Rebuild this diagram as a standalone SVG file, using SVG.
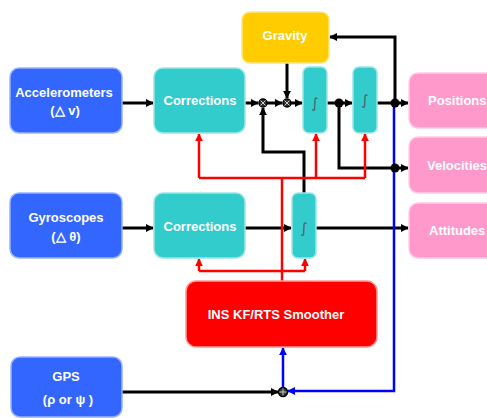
<svg xmlns="http://www.w3.org/2000/svg" width="487" height="418" viewBox="0 0 487 418">
<style>
text{font-family:"Liberation Sans",Arial,sans-serif;font-weight:bold;font-size:13px;fill:#fff;text-anchor:middle;dominant-baseline:central}
.blue{fill:#3366ff;stroke:#99b3ff;stroke-width:1.5}
.teal{fill:#33cccc;stroke:#99e6e6;stroke-width:1.5}
.yel{fill:#ffcc00;stroke:#ffe680;stroke-width:1.5}
.pink{fill:#ff99cc;stroke:#ffcce6;stroke-width:1.5}
.red{fill:#ff0000;stroke:#ff9999;stroke-width:1.5}
.integ{font-family:"DejaVu Sans",sans-serif;font-weight:normal;font-size:14px;fill:#556}
.bk{fill:none;stroke:#000;stroke-width:3}
.rd{fill:none;stroke:#ff0000;stroke-width:2.5}
.bl{fill:none;stroke:#0000ff;stroke-width:2.5}
</style>
<defs>
<marker id="ak" viewBox="0 0 10 10" refX="9" refY="5" markerWidth="8" markerHeight="8" markerUnits="userSpaceOnUse" orient="auto"><path d="M0,0 L10,5 L0,10 z" fill="#000"/></marker>
<marker id="ar" viewBox="0 0 10 10" refX="9" refY="5" markerWidth="8" markerHeight="8" markerUnits="userSpaceOnUse" orient="auto"><path d="M0,0 L10,5 L0,10 z" fill="#ff0000"/></marker>
<marker id="ab" viewBox="0 0 10 10" refX="9" refY="5" markerWidth="8" markerHeight="8" markerUnits="userSpaceOnUse" orient="auto"><path d="M0,0 L10,5 L0,10 z" fill="#0000ff"/></marker>
</defs>
<rect width="487" height="418" fill="#fff"/>

<g id="connectors">
<path class="bk" d="M122,103 H153" marker-end="url(#ak)"/>
<path class="bk" d="M245,103 H258" marker-end="url(#ak)"/>
<path class="bk" d="M267,103 H282" marker-end="url(#ak)"/>
<path class="bk" d="M291,103 H302" marker-end="url(#ak)"/>
<path class="bk" d="M327,103 H352" marker-end="url(#ak)"/>
<path class="bk" d="M377,103 H408" marker-end="url(#ak)"/>
<path class="bk" d="M287,63 V98" marker-end="url(#ak)"/>
<path class="bk" d="M395,103 V37 H330" marker-end="url(#ak)"/>
<path class="bk" d="M339,103 V168 H408" marker-end="url(#ak)"/>
<path class="bk" d="M304,193 V152 H263 V108" marker-end="url(#ak)"/>
<path class="bk" d="M122,228 H153" marker-end="url(#ak)"/>
<path class="bk" d="M245,228 H291" marker-end="url(#ak)"/>
<path class="bk" d="M316,228 H408" marker-end="url(#ak)"/>
<path class="bk" d="M122,392 H278" marker-end="url(#ak)"/>
<path class="rd" d="M282,281 V178"/>
<path class="rd" d="M199,178 H365"/>
<path class="rd" d="M199,178 V134" marker-end="url(#ar)"/>
<path class="rd" d="M316,178 V134" marker-end="url(#ar)"/>
<path class="rd" d="M365,178 V134" marker-end="url(#ar)"/>
<path class="rd" d="M199,271 H305"/>
<path class="rd" d="M199,271 V259" marker-end="url(#ar)"/>
<path class="rd" d="M305,271 V259" marker-end="url(#ar)"/>
<path class="bl" d="M394,103 V391 H288" marker-end="url(#ab)"/>
<path class="bl" d="M283,387 V348" marker-end="url(#ab)"/>
<g fill="#000">
<circle cx="339" cy="103" r="4.5"/>
<circle cx="395" cy="103" r="4.5"/>
<circle cx="395" cy="168" r="4.5"/>
</g>
<g stroke="#000" stroke-width="1.5" fill="#333">
<circle cx="263" cy="103" r="4"/>
<circle cx="287" cy="103" r="4"/>
<circle cx="283" cy="392" r="4.5"/>
</g>
<g stroke="#ccc" stroke-width="1">
<path d="M260.5,100.5 L265.5,105.5 M265.5,100.5 L260.5,105.5"/>
<path d="M284.5,100.5 L289.5,105.5 M289.5,100.5 L284.5,105.5"/>
<path d="M283,388.5 V395.5 M279.5,392 H286.5"/>
</g>
</g>

<g id="accelerometers"><rect class="blue" x="10" y="68" width="112" height="65" rx="9"/><text x="64" y="92">Accelerometers</text><text x="65" y="110">(△ v)</text></g>
<g id="corrections1"><rect class="teal" x="154" y="68" width="91" height="65" rx="9"/><text x="200" y="100">Corrections</text></g>
<g id="gravity"><rect class="yel" x="242" y="12" width="87" height="51" rx="8"/><text x="285" y="35">Gravity</text></g>
<g id="integrator1"><rect class="teal" x="303" y="67" width="24" height="66" rx="6"/><text class="integ" x="315" y="103">∫</text></g>
<g id="integrator2"><rect class="teal" x="353" y="67" width="24" height="66" rx="6"/><text class="integ" x="365" y="100">∫</text></g>
<g id="positions"><rect class="pink" x="409" y="73" width="90" height="55" rx="9"/><text x="428" y="100" style="text-anchor:start">Positions</text></g>
<g id="velocities"><rect class="pink" x="409" y="137" width="90" height="56" rx="9"/><text x="427" y="165" style="text-anchor:start">Velocities</text></g>
<g id="attitudes"><rect class="pink" x="409" y="203" width="90" height="55" rx="9"/><text x="429" y="230" style="text-anchor:start">Attitudes</text></g>
<g id="gyroscopes"><rect class="blue" x="10" y="193" width="112" height="65" rx="9"/><text x="66" y="217">Gyroscopes</text><text x="66" y="236">(△ θ)</text></g>
<g id="corrections2"><rect class="teal" x="154" y="193" width="91" height="65" rx="9"/><text x="200" y="226">Corrections</text></g>
<g id="integrator3"><rect class="teal" x="292" y="193" width="24" height="65" rx="6"/><text class="integ" x="304" y="228">∫</text></g>
<g id="smoother"><rect class="red" x="186" y="281" width="191" height="66" rx="10"/><text x="276" y="314">INS KF/RTS Smoother</text></g>
<g id="gps"><rect class="blue" x="11" y="357" width="111" height="60" rx="9"/><text x="66" y="376">GPS</text><text x="68" y="399">(ρ or ψ )</text></g>
</svg>
